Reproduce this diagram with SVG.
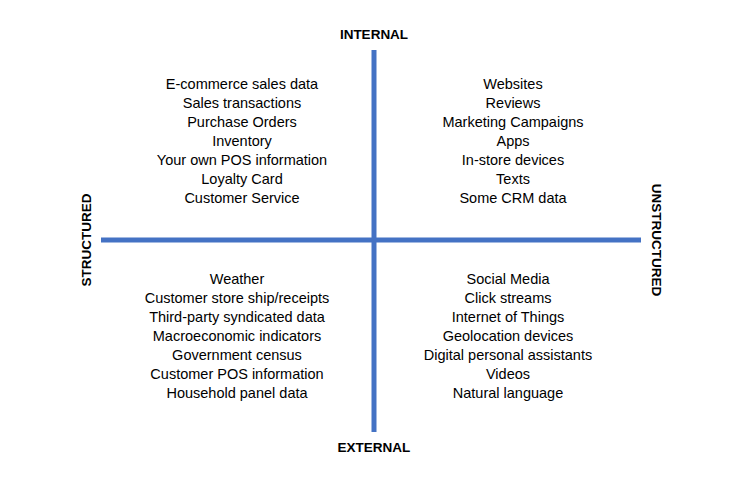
<svg xmlns="http://www.w3.org/2000/svg" width="734" height="481" viewBox="0 0 734 481">
<style>
.ax{stroke:#4472C4;stroke-width:5;fill:none}
.t{font-family:"Liberation Sans",Arial,sans-serif;font-size:14.5px;fill:#000;text-anchor:middle}
.h{font-family:"Liberation Sans",Arial,sans-serif;font-size:13.5px;font-weight:bold;fill:#000;text-anchor:middle}
</style>
<rect width="734" height="481" fill="#fff"/>
<g id="axes">
<line class="ax" x1="374" y1="50" x2="374" y2="432"/>
<line class="ax" x1="101" y1="240" x2="641" y2="240"/>
</g>
<g id="labels">
<text class="h" x="374" y="39">INTERNAL</text>
<text class="h" x="374" y="452">EXTERNAL</text>
<text class="h" transform="translate(91,240) rotate(-90)">STRUCTURED</text>
<text class="h" transform="translate(652,240) rotate(90)">UNSTRUCTURED</text>
</g>
<g id="q-internal-structured" class="t">
<text class="t" x="242" y="89">E-commerce sales data</text>
<text class="t" x="242" y="108">Sales transactions</text>
<text class="t" x="242" y="127">Purchase Orders</text>
<text class="t" x="242" y="146">Inventory</text>
<text class="t" x="242" y="165">Your own POS information</text>
<text class="t" x="242" y="184">Loyalty Card</text>
<text class="t" x="242" y="203">Customer Service</text>
</g>
<g id="q-internal-unstructured">
<text class="t" x="513" y="89">Websites</text>
<text class="t" x="513" y="108">Reviews</text>
<text class="t" x="513" y="127">Marketing Campaigns</text>
<text class="t" x="513" y="146">Apps</text>
<text class="t" x="513" y="165">In-store devices</text>
<text class="t" x="513" y="184">Texts</text>
<text class="t" x="513" y="203">Some CRM data</text>
</g>
<g id="q-external-structured">
<text class="t" x="237" y="284">Weather</text>
<text class="t" x="237" y="303">Customer store ship/receipts</text>
<text class="t" x="237" y="322">Third-party syndicated data</text>
<text class="t" x="237" y="341">Macroeconomic indicators</text>
<text class="t" x="237" y="360">Government census</text>
<text class="t" x="237" y="379">Customer POS information</text>
<text class="t" x="237" y="398">Household panel data</text>
</g>
<g id="q-external-unstructured">
<text class="t" x="508" y="284">Social Media</text>
<text class="t" x="508" y="303">Click streams</text>
<text class="t" x="508" y="322">Internet of Things</text>
<text class="t" x="508" y="341">Geolocation devices</text>
<text class="t" x="508" y="360">Digital personal assistants</text>
<text class="t" x="508" y="379">Videos</text>
<text class="t" x="508" y="398">Natural language</text>
</g>
</svg>
